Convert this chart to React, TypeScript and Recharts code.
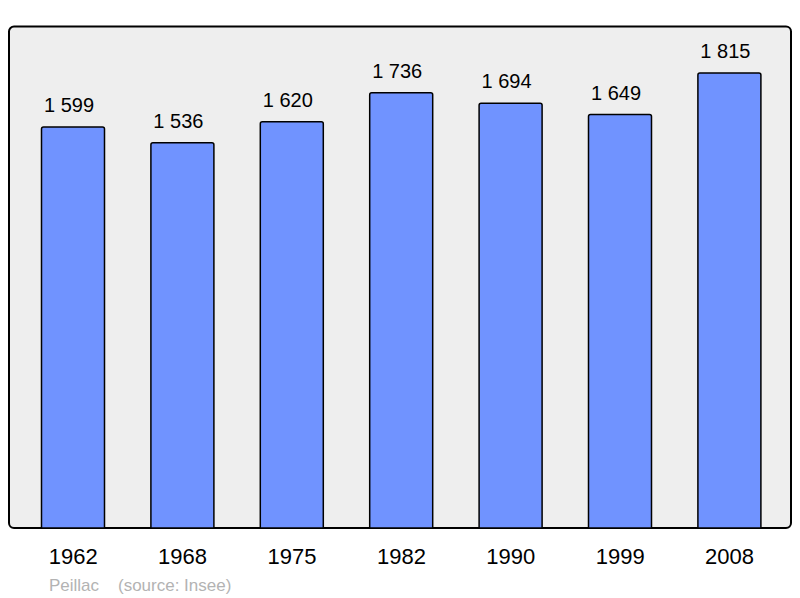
import React from 'react';
import { BarChart, Bar, XAxis, YAxis, LabelList, ReferenceArea, Customized } from 'recharts';

const years = ['1962', '1968', '1975', '1982', '1990', '1999', '2008'];
const population = [1599, 1536, 1620, 1736, 1694, 1649, 1815];
const footerText = 'Peillac    (source: Insee)';

const data = years.map((y, i) => ({ year: y, pop: population[i] }));

const fmt = (v: number) => {
  const s = String(v);
  return s.length > 3 ? s.slice(0, s.length - 3) + '\u00a0' + s.slice(-3) : s;
};

const FONT = '"Liberation Sans", Arial, sans-serif';
const LAST = data.length - 1;

export default function App() {
  return (
    <div style={{ position: 'absolute', left: 0, top: 0, width: 800, height: 598, background: '#fff' }}>
      <BarChart
        width={800}
        height={598}
        data={data}
        margin={{ top: 26.5, right: 9, bottom: 40, left: 9 }}
        barSize={63}
      >
        <XAxis xAxisId="frame" type="number" domain={[0, LAST]} allowDataOverflow hide />
        <XAxis
          dataKey="year"
          height={30}
          axisLine={false}
          tickLine={false}
          tickSize={0}
          tickMargin={20.5}
          interval={0}
          padding={{ left: 9.5, right: 6.7 }}
          tick={{ fill: '#000', fontSize: 22, fontFamily: FONT }}
        />
        <YAxis hide domain={[0, 2000]} />
        <ReferenceArea
          xAxisId="frame"
          x1={0}
          x2={LAST}
          y1={0}
          y2={2000}
          fill="#eeeeee"
          fillOpacity={1}
          stroke="#000"
          strokeWidth={2}
          radius={5}
          ifOverflow="visible"
        />
        <Bar dataKey="pop" fill="#7093ff" stroke="#000" strokeWidth={1.5} radius={[2, 2, 0, 0]} isAnimationActive={false}>
          <LabelList
            dataKey="pop"
            position="top"
            offset={15}
            formatter={(v: any) => fmt(Number(v))}
            style={{ fill: '#000', fontSize: 20, fontFamily: FONT }}
            dx={-4}
          />
        </Bar>
        <Customized
          component={() => (
            <text x={49} y={590.5} fill="#b3b3b3" fontSize={17} fontFamily={FONT} style={{ whiteSpace: 'pre' }}>
              {footerText}
            </text>
          )}
        />
      </BarChart>
    </div>
  );
}
